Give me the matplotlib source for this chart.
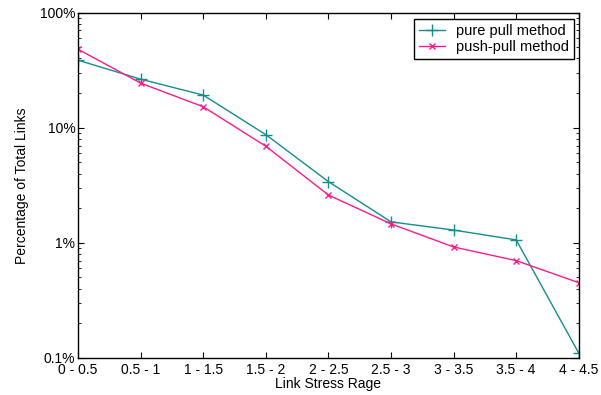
import matplotlib.pyplot as plt
from matplotlib.ticker import FixedLocator, LogLocator, NullFormatter

plt.rcParams['font.family'] = ['Liberation Sans', 'DejaVu Sans']

stress_ranges = ['0 - 0.5', '0.5 - 1', '1 - 1.5', '1.5 - 2', '2 - 2.5',
                 '2.5 - 3', '3 - 3.5', '3.5 - 4', '4 - 4.5']
# percentage of total links in each stress range
pure_pull = [38.6, 26.4, 19.2, 8.7, 3.4, 1.52, 1.29, 1.06, 0.11]
push_pull = [48.0, 24.4, 15.2, 6.9, 2.6, 1.46, 0.92, 0.70, 0.45]

fig = plt.figure(figsize=(6.01, 3.95), dpi=100)
ax = fig.add_axes([0.13, 0.094, 0.833, 0.874])

x = range(len(stress_ranges))
ax.plot(x, pure_pull, color='#168c8c', marker='+', markersize=9,
        linewidth=1.0, label='pure pull method')
ax.plot(x, push_pull, color='#ff1a8c', marker='x', markersize=4.5,
        linewidth=1.0, label='push-pull method')

ax.set_yscale('log')
ax.set_ylim(0.1, 100)
ax.set_xlim(0, len(stress_ranges) - 1)
ax.yaxis.set_major_locator(FixedLocator([0.1, 1, 10, 100]))
ax.set_yticklabels(['0.1%', '1%', '10%', '100%'])
ax.yaxis.set_minor_locator(LogLocator(base=10, subs=range(2, 10)))
ax.yaxis.set_minor_formatter(NullFormatter())
ax.set_xticks(list(x))
ax.set_xticklabels(stress_ranges)

ax.tick_params(which='both', direction='in', top=True, right=True,
               labelsize=10, pad=2)
ax.tick_params(axis='x', pad=4)
ax.tick_params(which='major', length=4)
ax.tick_params(which='minor', length=2.5)
for s in ax.spines.values():
    s.set_linewidth(1.0)

ax.set_xlabel('Link Stress Rage', fontsize=10, labelpad=0)
ax.set_ylabel('Percentage of Total Links', fontsize=10, labelpad=8)

leg = ax.legend(loc='upper right', fontsize=10.5, fancybox=False,
                edgecolor='black', framealpha=1, borderpad=0.35,
                borderaxespad=0, handlelength=1.8, handletextpad=0.7,
                labelspacing=0.15, bbox_to_anchor=(0.99, 0.983))
leg.get_frame().set_linewidth(1.0)

fig.savefig('out.png', dpi=100)
